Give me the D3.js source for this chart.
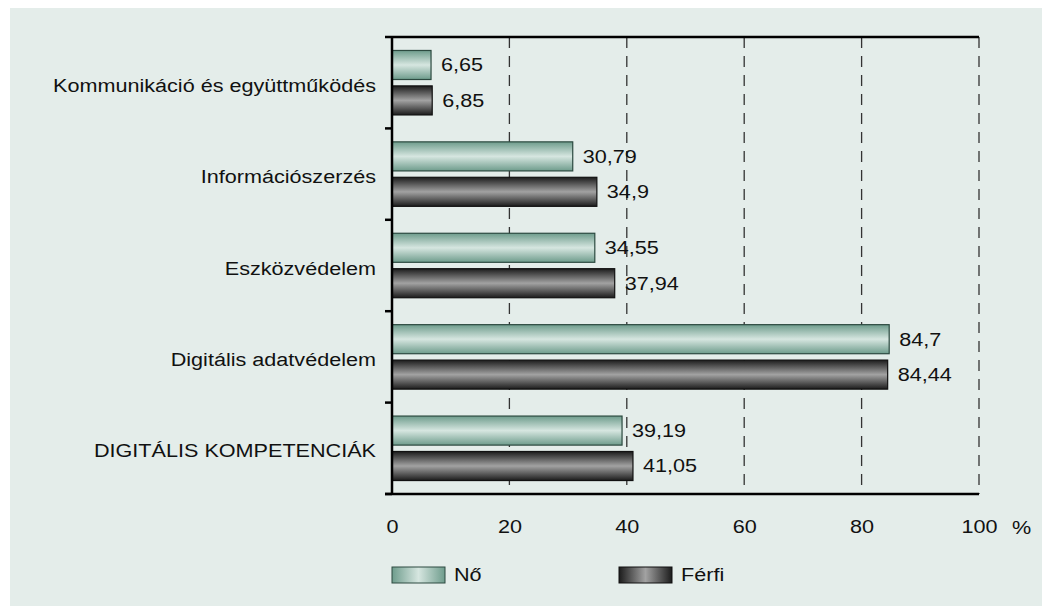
<!DOCTYPE html>
<html><head><meta charset="utf-8">
<script src="https://cdn.jsdelivr.net/npm/d3@7"></script>
<style>body{margin:0;background:#fff}svg{display:block}text{font-family:"Liberation Sans",Arial,sans-serif;fill:#111;font-size:18px}</style>
</head><body><svg id="c" width="1042" height="606"></svg>
<script>
const categories = ["Kommunikáció és együttműködés","Információszerzés","Eszközvédelem","Digitális adatvédelem","DIGITÁLIS KOMPETENCIÁK"];
const seriesNames = ["Nő","Férfi"];
const noValues = [6.65,30.79,34.55,84.7,39.19];
const ferfiValues = [6.85,34.9,37.94,84.44,41.05];
const xTicks = [0,20,40,60,80,100];
const fmt = v => String(v).replace(".", ",");

const svg = d3.select("#c");
svg.append("rect").attr("x",10).attr("y",8).attr("width",1032).attr("height",598).attr("fill","#e4edea");

const defs = svg.append("defs");
function grad(id, stops, vertical){
  const g = defs.append("linearGradient").attr("id",id);
  if(vertical) g.attr("x1",0).attr("y1",0).attr("x2",0).attr("y2",1);
  stops.forEach(s=>g.append("stop").attr("offset",s[0]).attr("stop-color",s[1]));
}
const noStops = [[0,"#6e9c8c"],[0.5,"#d6e6e0"],[1,"#6e9c8c"]];
const feStops = [[0,"#1c1c1c"],[0.5,"#a2a2a2"],[1,"#1c1c1c"]];
grad("gNo", noStops, true); grad("gFe", feStops, true);
grad("gNoH", noStops, false); grad("gFeH", feStops, false);

const L=392, R=979, T=37, B=494;
const x = d3.scaleLinear().domain([0,100]).range([L,R]);
const y = d3.scaleBand().domain(categories).range([T,B]);
const inner = d3.scaleBand().domain(seriesNames).range([0,y.bandwidth()]).paddingInner(0.18).paddingOuter(0.38);

// gridlines
svg.append("g").selectAll("line").data(xTicks.filter(d=>d>0)).join("line")
  .attr("x1",d=>x(d)).attr("x2",d=>x(d)).attr("y1",T).attr("y2",B)
  .attr("stroke","#333").attr("stroke-width",1.3).attr("stroke-dasharray","11,8");

const data = [];
categories.forEach((c,i)=>{
  data.push({c,s:"Nő",v:noValues[i]});
  data.push({c,s:"Férfi",v:ferfiValues[i]});
});
svg.append("g").selectAll("rect").data(data).join("rect")
  .attr("x",x(0)).attr("y",d=>y(d.c)+inner(d.s)).attr("width",d=>x(d.v)-x(0)).attr("height",inner.bandwidth())
  .attr("fill",d=>d.s==="Nő"?"url(#gNo)":"url(#gFe)")
  .attr("stroke",d=>d.s==="Nő"?"#2c4a40":"#111").attr("stroke-width",1.2);
svg.append("g").selectAll("text").data(data).join("text")
  .attr("x",d=>x(d.v)+10).attr("y",d=>y(d.c)+inner(d.s)+inner.bandwidth()/2).attr("dy","0.36em")
  .text(d=>fmt(d.v));

// axes
svg.append("line").attr("x1",L).attr("x2",R).attr("y1",T).attr("y2",T).attr("stroke","#000").attr("stroke-width",2.5);
const yAxis = d3.axisLeft(y).tickSize(0).tickPadding(16);
const ga = svg.append("g").attr("transform",`translate(${L},0)`).call(yAxis);
ga.select(".domain").remove();
ga.selectAll("text").attr("fill","#111").attr("dy","0.5em");
ga.attr("font-size",null).attr("font-family",null);
svg.append("line").attr("x1",L).attr("x2",L).attr("y1",T-1).attr("y2",B+1).attr("stroke","#000").attr("stroke-width",2.5);
const bounds = categories.map(c=>y(c)).concat([B]);
svg.append("g").selectAll("line").data(bounds).join("line")
  .attr("x1",L-7).attr("x2",L).attr("y1",d=>d).attr("y2",d=>d).attr("stroke","#000").attr("stroke-width",2.5);
svg.append("line").attr("x1",L-7).attr("x2",R).attr("y1",B).attr("y2",B).attr("stroke","#000").attr("stroke-width",2.5);

const xAxis = d3.axisBottom(x).tickValues(xTicks).tickSize(0).tickPadding(26).tickFormat(d=>d);
const gx = svg.append("g").attr("transform",`translate(0,${B})`).call(xAxis);
gx.select(".domain").remove();
gx.attr("font-size",null).attr("font-family",null);
gx.selectAll("text").attr("fill","#111");
svg.append("text").attr("x",1012).attr("y",534).text("%");

// legend
const leg = [{s:"Nő",x:392,f:"url(#gNoH)",st:"#2c4a40"},{s:"Férfi",x:619,f:"url(#gFeH)",st:"#111"}];
leg.forEach(l=>{
  svg.append("rect").attr("x",l.x).attr("y",567).attr("width",53).attr("height",16).attr("fill",l.f).attr("stroke",l.st).attr("stroke-width",1);
  svg.append("text").attr("x",l.x+62).attr("y",575).attr("dy","0.36em").text(l.s);
});

// horizontally widened glyphs, as in the reference typeface
svg.selectAll("text").each(function(){
  const w = this.getComputedTextLength();
  d3.select(this).attr("textLength", w*1.2).attr("lengthAdjust","spacingAndGlyphs");
});
</script></body></html>
